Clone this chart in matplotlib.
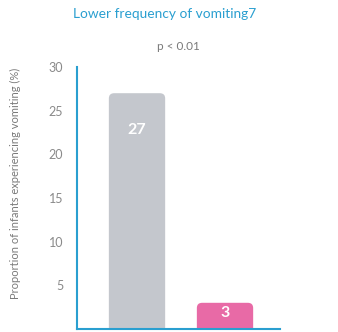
import matplotlib
matplotlib.use("Agg")
import matplotlib.pyplot as plt
from matplotlib.patches import FancyBboxPatch

plt.rcParams['font.family'] = ['Lato', 'DejaVu Sans']

groups = ['Control', 'Treatment']
values = [27, 3]
colors = ['#c4c7cd', '#e86aa6']
yticks = [5, 10, 15, 20, 25, 30]

title = 'Lower frequency of vomiting7'
pval = 'p < 0.01'
ylabel = 'Proportion of infants experiencing vomiting (%)'

fig = plt.figure(figsize=(3.38, 3.32), dpi=100)
ax = fig.add_axes([77 / 338, 3 / 332, 203 / 338, 262 / 332])

bars = ax.bar(range(len(groups)), values, width=0.64, color=colors)

# swap the plain rectangles for rounded ones
for b, c in zip(bars, colors):
    x, y = b.get_x(), b.get_y()
    w, h = b.get_width(), b.get_height()
    b.set_visible(False)
    r = 0.06
    patch = FancyBboxPatch((x, y - 1), w, h + 1,
                           boxstyle=f'round,pad=0,rounding_size={r}',
                           mutation_aspect=10, fc=c, ec='none')
    ax.add_patch(patch)

for i, v in enumerate(values):
    ypos = v - 4.2 if v > 10 else v / 2 + 0.3
    ax.text(i, ypos, str(v), ha='center', va='center', color='white',
            fontsize=11.5, fontweight='bold')

ax.set_xlim(-0.682, 1.625)
ax.set_ylim(0, 30)
ax.set_yticks(yticks)
ax.set_yticklabels([str(t) for t in yticks])
ax.set_xticks([])
ax.tick_params(axis='y', length=0, pad=10, labelsize=9, labelcolor='#8a8a8a')

for s in ['top', 'right']:
    ax.spines[s].set_visible(False)
for s in ['left', 'bottom']:
    ax.spines[s].set_color('#2a9fd0')
    ax.spines[s].set_linewidth(1.5)

fig.text(165 / 338, 1 - 14 / 332, title, ha='center', va='center',
         color='#2a9fd0', fontsize=9.9)
fig.text(178 / 338, 1 - 46 / 332, pval, ha='center', va='center',
         color='#7a7a7a', fontsize=8.5)
fig.text(15 / 338, 1 - 183 / 332, ylabel, rotation=90, ha='center',
         va='center', color='#7a7a7a', fontsize=8)

fig.savefig('out.png', dpi=100)
